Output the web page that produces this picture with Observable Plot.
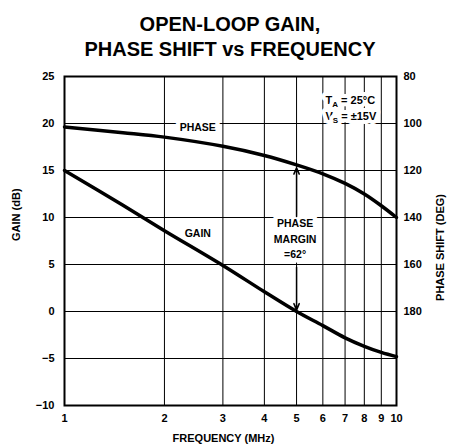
<!DOCTYPE html>
<html>
<head>
<meta charset="utf-8">
<script src="https://cdn.jsdelivr.net/npm/d3@7"></script>
<script src="https://cdn.jsdelivr.net/npm/@observablehq/plot@0.6"></script>
<style>
  body { margin: 0; background: #fff; }
  #wrap { width: 450px; font-family: "Liberation Sans", Arial, sans-serif; }
  #title { box-sizing: border-box; height: 62px; padding-top: 12px; padding-left: 10px;
    text-align: center; font-weight: bold; font-size: 20px; line-height: 25px; color: #000; }
</style>
</head>
<body>
<div id="wrap">
  <div id="title">OPEN-LOOP GAIN,<br>PHASE SHIFT vs FREQUENCY</div>
  <div id="chart"></div>
</div>
<script>
// Frequency (MHz)
const freq = [1, 1.5, 2, 3, 4, 5, 6, 7, 8, 9, 10];
// Open-loop gain (dB)
const gain = [15, 11.3, 8.6, 4.9, 2.1, 0, -1.5, -2.8, -3.7, -4.35, -4.8];
// Phase shift (deg)
const phase = [101.5, 103.9, 105.8, 109.7, 113.6, 117.6, 121.4, 125.5, 130, 135, 140];

const gainTicks = [-10, -5, 0, 5, 10, 15, 20, 25];
const phaseTicks = [80, 100, 120, 140, 160, 180];
const freqTicks = [1, 2, 3, 4, 5, 6, 7, 8, 9, 10];
const gridGain = [-5, 0, 5, 10, 15, 20];
const gridFreq = [2, 3, 4, 5, 6, 7, 8, 9];

// phase axis is tied to the gain axis: 80° ↔ 25 dB, 20° per 5 dB
const phaseToGain = p => 25 - (p - 80) / 4;
const gainToPhase = g => 80 + (25 - g) * 4;

const gainData = freq.map((f, i) => ({f, v: gain[i]}));
const phaseData = freq.map((f, i) => ({f, v: phaseToGain(phase[i])}));

const marginPhase = 62;
const phaseAt5 = 180 - marginPhase;

const labels = [
  {f: 2.52, v: 19.6, t: "PHASE"},
  {f: 2.52, v: 8.3, t: "GAIN"},
  {f: 4.95, v: 9.3, t: "PHASE"},
  {f: 4.95, v: 7.65, t: "MARGIN"},
  {f: 4.95, v: 6.05, t: "=62°"}
];
const conds = [
  {f: 6.11, v: 22.4, t: "TA = 25°C"},
  {f: 6.11, v: 20.8, t: "VS = ±15V"}
];

const font = {fontFamily: "Liberation Sans, Arial, sans-serif", fontWeight: "bold"};

const plot = Plot.plot({
  width: 450,
  height: 386,
  marginLeft: 64,
  marginRight: 54,
  marginTop: 14,
  marginBottom: 43,
  style: {fontFamily: "Liberation Sans, Arial, sans-serif", fontSize: "11px", fontWeight: "bold", color: "#000", background: "#fff"},
  x: {type: "log", domain: [1, 10]},
  y: {domain: [-10, 25]},
  marks: [
    Plot.ruleY(gridGain, {stroke: "#000", strokeWidth: 1}),
    Plot.ruleX(gridFreq, {stroke: "#000", strokeWidth: 1}),
    Plot.text(labels, {x: "f", y: "v", text: "t", fontSize: 10.5, ...font, fill: "#000", stroke: "#fff", strokeWidth: 9, paintOrder: "stroke"}),
    Plot.text(conds, {x: "f", y: "v", text: "t", fontSize: 11, ...font, textAnchor: "start", fill: "#000", stroke: "#fff", strokeWidth: 8, paintOrder: "stroke", className: "cond"}),
    Plot.arrow([{x: 5, y1: 10.1, y2: phaseToGain(phaseAt5) - 0.2}], {x1: "x", x2: "x", y1: "y1", y2: "y2", stroke: "#000", strokeWidth: 1.5, headLength: 7, headAngle: 45}),
    Plot.arrow([{x: 5, y1: 4.7, y2: 0.15}], {x1: "x", x2: "x", y1: "y1", y2: "y2", stroke: "#000", strokeWidth: 1.5, headLength: 7, headAngle: 45}),
    Plot.line(gainData, {x: "f", y: "v", curve: "catmull-rom", stroke: "#000", strokeWidth: 3.5}),
    Plot.line(phaseData, {x: "f", y: "v", curve: "catmull-rom", stroke: "#000", strokeWidth: 3.5}),
    Plot.frame({stroke: "#000", strokeWidth: 2}),
    Plot.axisY({ticks: gainTicks, tickSize: 0, tickPadding: 10, label: null,
      tickFormat: d => d < 0 ? "\u2212" + Math.abs(d) : String(d), fontSize: 11, ...font}),
    Plot.axisY({anchor: "right", ticks: phaseTicks.map(phaseToGain), tickSize: 0, tickPadding: 7, label: null,
      tickFormat: g => String(Math.round(gainToPhase(g))), fontSize: 11, ...font}),
    Plot.axisX({ticks: freqTicks, tickSize: 0, tickPadding: 9, label: null,
      tickFormat: d => String(d), fontSize: 11, ...font}),
    Plot.text(["FREQUENCY (MHz)"], {frameAnchor: "bottom", dy: 36, dx: -7, fontSize: 11, ...font, fill: "#000"}),
    Plot.text(["GAIN (dB)"], {frameAnchor: "left", dx: -48, rotate: -90, fontSize: 11, ...font, fill: "#000"}),
    Plot.text(["PHASE SHIFT (DEG)"], {frameAnchor: "right", dx: 44, dy: -47, rotate: -90, fontSize: 11, ...font, fill: "#000"})
  ]
});

// subscripts for T_A and V_S
d3.select(plot).selectAll(".cond text").each(function () {
  const s = this.textContent;
  const el = d3.select(this);
  el.text("");
  el.append("tspan").text(s[0]);
  el.append("tspan").attr("font-size", 8).attr("dy", "3").text(s[1]);
  el.append("tspan").attr("dy", "-3").text(s.slice(2));
});

document.getElementById("chart").appendChild(plot);
</script>
</body>
</html>
